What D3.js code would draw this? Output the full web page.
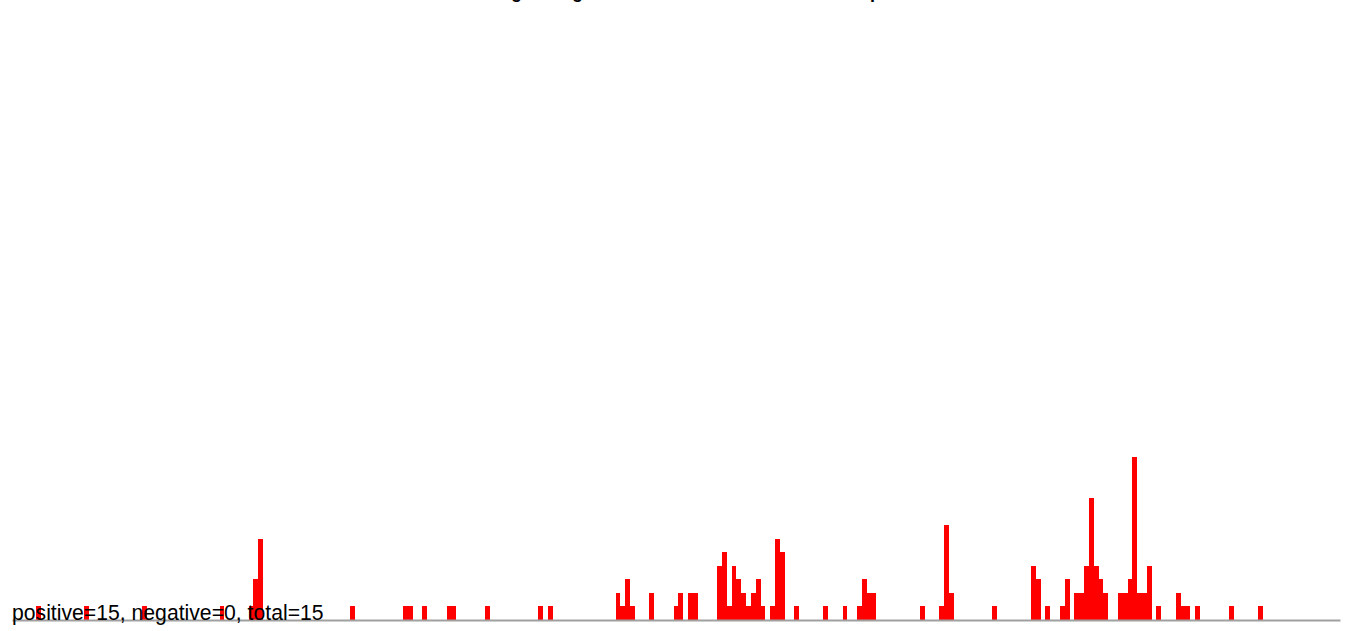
<!DOCTYPE html>
<html>
<head>
<meta charset="utf-8">
<script src="https://cdn.jsdelivr.net/npm/d3@7"></script>
<style>
  html, body { margin: 0; padding: 0; background: #fff; }
  svg { display: block; }
</style>
</head>
<body>
<svg id="chart" width="1352" height="631"></svg>
<script>
// ---- data ----
const titleText = "Trending Rating of Sentiment Counts across Samples";
const footerText = "positive=15, negative=0, total=15";
const binCount = 275;
const bins = [5,15,27,43,49,50,51,70,81,82,85,90,91,98,109,111,125,126,127,128,132,137,138,140,141,146,147,148,149,150,151,152,153,154,155,157,158,159,162,168,172,175,176,177,178,188,192,193,194,203,211,212,214,217,218,220,221,222,223,224,225,226,229,230,231,232,233,234,235,237,241,242,243,245,252,258];
const counts = [1,1,1,1,1,3,6,1,1,1,1,1,1,1,1,1,2,1,3,1,2,1,2,2,2,4,5,1,4,3,2,1,2,3,1,1,6,5,1,1,1,1,3,2,2,1,1,7,2,1,4,3,1,1,3,2,2,4,9,4,3,2,2,2,3,12,2,2,4,1,2,1,1,1,1,1];
const yMax = 12;

// ---- layout ----
const left = 12, right = 1340, baseline = 620, topY = 457;

const svg = d3.select("#chart");

const x = d3.scaleBand()
  .domain(d3.range(binCount))
  .range([left, right])
  .padding(0);

const y = d3.scaleLinear()
  .domain([0, yMax])
  .range([baseline, topY]);

const data = bins.map((b, i) => ({ bin: b, count: counts[i] }));

svg.append("g")
  .selectAll("rect")
  .data(data)
  .join("rect")
  .attr("x", d => x(d.bin))
  .attr("width", x.bandwidth())
  .attr("y", d => y(d.count))
  .attr("height", d => y(0) - y(d.count))
  .attr("fill", "#ff0000")
  .attr("shape-rendering", "crispEdges");

// baseline axis
const axis = d3.axisBottom(x).tickValues([]).tickSizeOuter(0);
const ax = svg.append("g")
  .attr("transform", `translate(0,${baseline})`)
  .call(axis);
ax.select(".domain")
  .attr("stroke", "#a0a0a0")
  .attr("stroke-width", 2);

// footer label
svg.append("text")
  .attr("x", left)
  .attr("y", baseline - 0.5)
  .attr("font-family", "Liberation Sans, Arial, sans-serif")
  .attr("font-size", 21.2)
  .attr("fill", "#000")
  .text(footerText);

// title (mostly above the visible area, as in the reference)
svg.append("text")
  .attr("x", 676)
  .attr("y", -2)
  .attr("text-anchor", "middle")
  .attr("font-family", "Liberation Sans, Arial, sans-serif")
  .attr("font-weight", "bold")
  .attr("font-size", 18)
  .attr("fill", "#000")
  .text(titleText);
</script>
</body>
</html>
